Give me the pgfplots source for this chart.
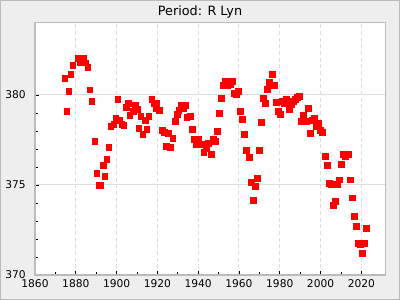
\documentclass[border=0pt]{standalone}
\usepackage{fontspec}
\setmainfont{DejaVu Sans}
\usepackage{pgfplots}
\pgfplotsset{compat=1.18}
\definecolor{bgc}{HTML}{EEEEEE}
\definecolor{framec}{HTML}{BBBBBB}
\definecolor{gridc}{HTML}{DDDDDD}
\begin{document}
\begin{tikzpicture}
\fill[bgc] (0,0) rectangle (300pt,225pt);
\draw[framec, line width=0.75pt] (0.375pt,0.375pt) rectangle (299.625pt,224.625pt);
\node[font=\fontsize{9.6}{11}\selectfont, anchor=center] at (150pt,216pt) {Period: R Lyn};
\begin{axis}[
  at={(26.25pt,18.75pt)}, anchor=south west,
  width=262.5pt, height=189pt, scale only axis,
  xmin=1860, xmax=2031.6, ymin=370, ymax=384,
  xtick={1860,1880,...,2020}, ytick={370,375,380},
  minor x tick num=1, minor y tick num=4,
  tick align=inside, xtick pos=bottom, ytick pos=left,
  major tick length=3pt, minor tick length=2.25pt,
  axis line style={framec, line width=0.75pt},
  axis background/.style={fill=white},
  xmajorgrids, ymajorgrids,
  x grid style={gridc, dash pattern=on 3pt off 2pt, line width=0.75pt},
  y grid style={gridc, line width=0.75pt},
  tick style={black, line width=0.6pt},
  ticklabel style={font=\fontsize{8}{9}\selectfont},
  yticklabel style={xshift=-3.5pt},
  /pgf/number format/assume math mode=true,
  /pgf/number format/1000 sep={},
]
\addplot[only marks, mark=square*, mark size=2.1pt, color=red, mark options={line width=0.3pt}] coordinates {
(1874.6,380.93) (1875.6,379.10) (1876.6,380.20) (1877.6,381.15) (1878.5,381.65)
(1881.1,382.04) (1882.0,381.80) (1883.9,382.04) (1884.9,381.80) (1885.9,381.56)
(1886.8,380.30) (1887.8,379.65) (1889.35,377.43) (1890.3,375.65) (1891.3,374.98)
(1892.3,374.98) (1893.3,376.10) (1894.2,375.48) (1895.2,376.43) (1896.2,377.10)
(1897.2,378.26) (1898.6,378.37) (1899.6,378.70) (1900.6,379.76) (1901.6,378.60)
(1902.5,378.37) (1903.5,378.32) (1904.6,379.32) (1905.6,379.54) (1906.5,378.87)
(1908.0,379.10) (1909.0,379.43) (1910.0,379.20) (1910.9,378.15) (1911.9,378.82)
(1912.9,377.82) (1913.9,378.60) (1914.8,378.09) (1915.8,378.82) (1917.3,379.76)
(1918.25,379.54) (1919.25,379.26) (1919.75,379.54) (1920.8,379.15) (1922.3,378.04)
(1923.2,377.93) (1924.2,377.15) (1925.2,377.87) (1926.2,377.10) (1927.6,377.60)
(1928.6,378.54) (1929.6,378.93) (1930.5,379.15) (1931.5,379.43) (1932.55,379.26)
(1933.55,379.43) (1934.45,378.76) (1935.95,378.82) (1937.0,378.09) (1938.0,377.54)
(1938.9,377.26) (1939.9,377.54) (1940.9,377.26) (1941.9,377.26) (1942.8,376.82)
(1943.8,377.04) (1944.8,377.32) (1946.3,376.70) (1947.25,377.54) (1948.25,377.43)
(1949.25,377.98) (1950.25,378.98) (1951.2,379.82) (1952.2,380.54) (1953.2,380.76)
(1954.2,380.54) (1955.6,380.60) (1956.6,380.76) (1957.6,380.10) (1958.5,380.04)
(1959.5,380.20) (1960.5,379.10) (1961.55,378.65) (1962.55,377.82) (1963.55,376.93)
(1965.0,376.54) (1966.1,375.15) (1966.9,374.15) (1967.9,374.93) (1968.9,375.37)
(1969.9,376.93) (1970.8,378.48) (1971.8,379.82) (1972.8,379.54) (1973.85,380.32)
(1974.75,380.70) (1976.25,381.15) (1977.25,380.54) (1978.25,379.59) (1979.15,379.10)
(1980.2,378.93) (1981.2,379.65) (1982.2,379.54) (1983.1,379.76) (1984.6,379.20)
(1985.6,379.48) (1986.6,379.65) (1987.5,379.76) (1988.5,379.87) (1989.5,379.93)
(1990.55,378.54) (1991.45,378.87) (1992.95,378.54) (1993.95,379.26) (1994.85,377.87)
(1995.85,378.60) (1996.85,378.70) (1997.85,378.26) (1998.8,378.43) (1999.8,378.04)
(2000.8,377.93) (2002.3,376.60) (2003.2,376.10) (2004.2,375.09) (2005.2,375.04)
(2006.25,373.87) (2007.15,374.10) (2008.15,375.04) (2009.15,375.30) (2010.15,376.15)
(2011.1,376.70) (2012.1,376.60) (2013.6,376.70) (2014.6,375.30) (2015.5,374.30)
(2016.5,373.26) (2017.5,372.70) (2018.55,371.76) (2019.45,371.70) (2020.45,371.20)
(2021.45,371.76) (2022.5,372.60)
};
\end{axis}
\end{tikzpicture}
\end{document}
